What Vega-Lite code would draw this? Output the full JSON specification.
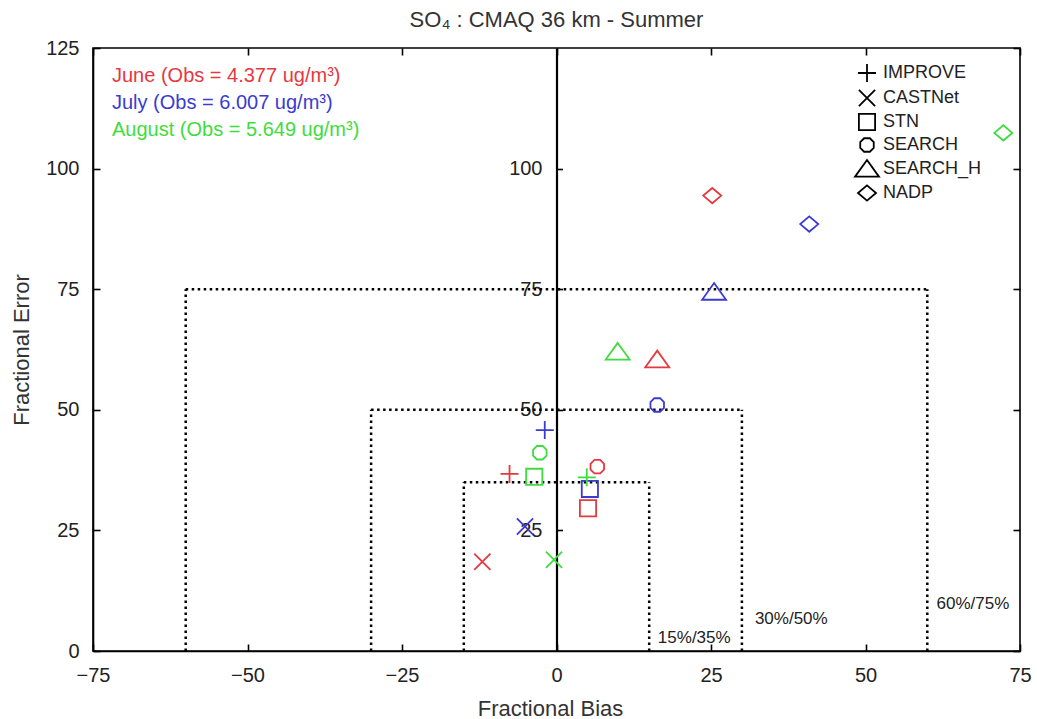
{
  "$schema": "https://vega.github.io/schema/vega-lite/v6.json",
  "width": 927,
  "height": 603,
  "autosize": {"type": "none"},
  "padding": {"left": 93, "top": 48, "right": 17, "bottom": 68},
  "background": "white",
  "title": {
    "text": "SO₄ : CMAQ 36 km - Summer",
    "font": "Liberation Sans",
    "fontSize": 22,
    "fontWeight": "normal",
    "color": "#333333",
    "baseline": "alphabetic",
    "offset": 20,
    "dy": 31,
    "frame": "group",
    "anchor": "middle"
  },
  "config": {
    "view": {"stroke": "black", "strokeWidth": 1.6},
    "axis": {
      "labelFont": "Liberation Sans",
      "titleFont": "Liberation Sans",
      "labelFontSize": 20,
      "titleFontSize": 22,
      "titleFontWeight": "normal",
      "labelColor": "#222222",
      "titleColor": "#333333",
      "grid": false,
      "domainColor": "black",
      "domainWidth": 1.6,
      "tickColor": "black",
      "tickWidth": 1.6,
      "tickSize": -7,
      "labelFlush": false,
      "labelOverlap": false,
      "labelBound": false
    },
    "legend": {
      "labelFont": "Liberation Sans",
      "titleFont": "Liberation Sans"
    }
  },
  "datasets": {
    "boxes": [
      {"box": "15%/35%", "x1": -15, "x2": -15, "y1": 0, "y2": 35},
      {"box": "15%/35%", "x1": -15, "x2": 15, "y1": 35, "y2": 35},
      {"box": "15%/35%", "x1": 15, "x2": 15, "y1": 0, "y2": 35},
      {"box": "30%/50%", "x1": -30, "x2": -30, "y1": 0, "y2": 50},
      {"box": "30%/50%", "x1": -30, "x2": 30, "y1": 50, "y2": 50},
      {"box": "30%/50%", "x1": 30, "x2": 30, "y1": 0, "y2": 50},
      {"box": "60%/75%", "x1": -60, "x2": -60, "y1": 0, "y2": 75},
      {"box": "60%/75%", "x1": -60, "x2": 60, "y1": 75, "y2": 75},
      {"box": "60%/75%", "x1": 60, "x2": 60, "y1": 0, "y2": 75}
    ],
    "boxlabels": [
      {"label": "15%/35%", "x": 16.4, "y": 1.7},
      {"label": "30%/50%", "x": 32.1, "y": 5.6},
      {"label": "60%/75%", "x": 61.5, "y": 8.7}
    ],
    "points": [
      {"month": "June", "site": "IMPROVE", "bias": -7.6, "error": 36.7},
      {"month": "June", "site": "CASTNet", "bias": -12.0, "error": 18.5},
      {"month": "June", "site": "STN", "bias": 5.1, "error": 29.6},
      {"month": "June", "site": "SEARCH", "bias": 6.6, "error": 38.2},
      {"month": "June", "site": "SEARCH_H", "bias": 16.3, "error": 60.4},
      {"month": "June", "site": "NADP", "bias": 25.2, "error": 94.4},
      {"month": "July", "site": "IMPROVE", "bias": -1.9, "error": 45.8},
      {"month": "July", "site": "CASTNet", "bias": -5.1, "error": 25.8},
      {"month": "July", "site": "STN", "bias": 5.4, "error": 33.6},
      {"month": "July", "site": "SEARCH", "bias": 16.3, "error": 51.0},
      {"month": "July", "site": "SEARCH_H", "bias": 25.5, "error": 74.4},
      {"month": "July", "site": "NADP", "bias": 40.9, "error": 88.5},
      {"month": "August", "site": "IMPROVE", "bias": 4.9, "error": 36.0},
      {"month": "August", "site": "CASTNet", "bias": -0.4, "error": 18.9},
      {"month": "August", "site": "STN", "bias": -3.6, "error": 36.1},
      {"month": "August", "site": "SEARCH", "bias": -2.7, "error": 41.1},
      {"month": "August", "site": "SEARCH_H", "bias": 9.9, "error": 62.0},
      {"month": "August", "site": "NADP", "bias": 72.3, "error": 107.4}
    ]
  },
  "layer": [
    {
      "data": {"name": "boxes"},
      "mark": {"type": "rule", "color": "black", "strokeWidth": 2.5, "strokeDash": [2.5, 3.5]},
      "encoding": {
        "x": {
          "field": "x1", "type": "quantitative",
          "scale": {"domain": [-75, 75], "nice": false, "zero": false},
          "axis": {
            "orient": "bottom",
            "values": [-75, -50, -25, 0, 25, 50, 75],
            "title": "Fractional Bias",
            "labelPadding": 21.5,
            "titleX": 457,
            "titleY": 64,
            "titleBaseline": "alphabetic"
          }
        },
        "x2": {"field": "x2"},
        "y": {
          "field": "y1", "type": "quantitative",
          "scale": {"domain": [0, 125], "nice": false, "zero": false},
          "axis": {
            "orient": "left",
            "values": [0, 25, 50, 75, 100, 125],
            "title": "Fractional Error",
            "labelPadding": 21,
            "titleX": -65,
            "titleY": 301.5,
            "titleBaseline": "alphabetic"
          }
        },
        "y2": {"field": "y2"}
      }
    },
    {
      "data": {"name": "boxlabels"},
      "mark": {"type": "text", "align": "left", "baseline": "alphabetic", "font": "Liberation Sans", "fontSize": 17, "color": "#222222"},
      "encoding": {
        "x": {"field": "x", "type": "quantitative", "axis": null},
        "y": {
          "field": "y", "type": "quantitative",
          "axis": {
            "orient": "left",
            "offset": -463.5,
            "values": [25, 50, 75, 100],
            "title": null,
            "domainWidth": 2.2,
            "tickSize": -6,
            "labelPadding": 20.5
          }
        },
        "text": {"field": "label"}
      }
    },
    {
      "data": {"name": "points"},
      "mark": {"type": "point", "filled": false, "strokeWidth": 1.8, "size": 324, "opacity": 1},
      "encoding": {
        "x": {
          "field": "bias", "type": "quantitative",
          "axis": {"orient": "top", "labels": false, "title": null, "domain": false, "values": [-75, -50, -25, 0, 25, 50, 75]}
        },
        "y": {
          "field": "error", "type": "quantitative",
          "axis": {"orient": "right", "labels": false, "title": null, "domain": false, "values": [0, 25, 50, 75, 100, 125]}
        },
        "color": {
          "field": "month", "type": "nominal",
          "scale": {"domain": ["June", "July", "August"], "range": ["#e6393f", "#3b3bd0", "#3fdc3f"]},
          "legend": {
            "orient": "none",
            "legendX": -1,
            "legendY": 18,
            "title": null,
            "symbolSize": 0,
            "symbolOpacity": 0,
            "labelOffset": 0,
            "labelFontSize": 20,
            "labelLimit": 0,
            "rowPadding": 7,
            "labelColor": {"expr": "datum.value == 'June' ? '#e6393f' : datum.value == 'July' ? '#3b3bd0' : '#3fdc3f'"},
            "labelExpr": "datum.label == 'June' ? 'June (Obs = 4.377 ug/m³)' : datum.label == 'July' ? 'July (Obs = 6.007 ug/m³)' : 'August (Obs = 5.649 ug/m³)'"
          }
        },
        "shape": {
          "field": "site", "type": "nominal",
          "scale": {
            "domain": ["IMPROVE", "CASTNet", "STN", "SEARCH", "SEARCH_H", "NADP"],
            "range": [
              "M-1,0H1M0,-1V1",
              "M-0.9,-0.9L0.9,0.9M-0.9,0.9L0.9,-0.9",
              "M-0.9,-0.9H0.9V0.9H-0.9Z",
              "M-0.32,-0.75L0.32,-0.75L0.75,-0.32L0.75,0.32L0.32,0.75L-0.32,0.75L-0.75,0.32L-0.75,-0.32Z",
              "M0,-1L1.33,0.85L-1.33,0.85Z",
              "M0,-0.85L1,0L0,0.85L-1,0Z"
            ]
          },
          "legend": {
            "orient": "none",
            "legendX": 764,
            "legendY": 15,
            "title": null,
            "symbolSize": 324,
            "symbolStrokeColor": "black",
            "symbolFillColor": "transparent",
            "symbolStrokeWidth": 1.8,
            "labelFontSize": 18,
            "labelColor": "#222222",
            "labelOffset": 6,
            "rowPadding": 0
          }
        }
      }
    }
  ],
  "resolve": {
    "axis": {"x": "independent", "y": "independent"},
    "legend": {"color": "independent", "shape": "independent"}
  }
}
